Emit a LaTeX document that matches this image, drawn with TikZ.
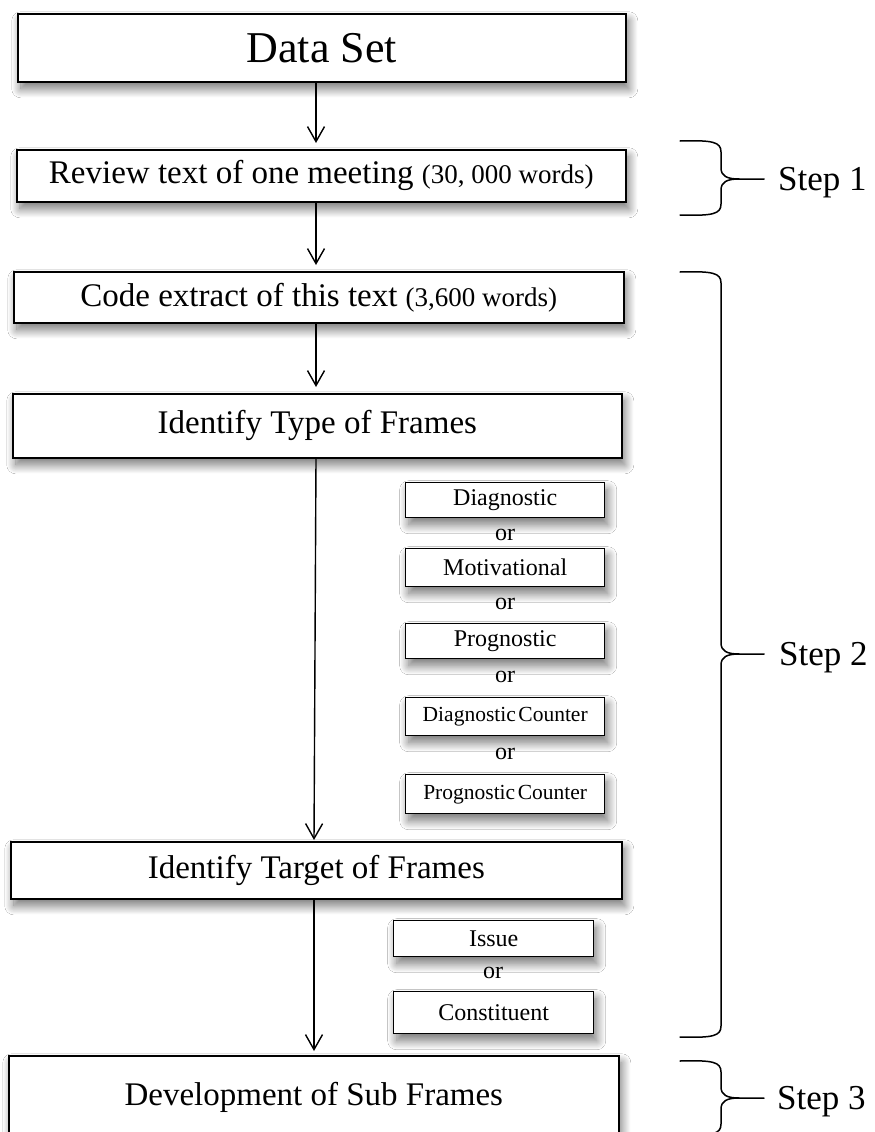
\documentclass[tikz,border=0pt]{standalone}
\usepackage{fontspec}
\setmainfont{Liberation Serif}
\usetikzlibrary{arrows.meta,shadows.blur}

% font size given in points (one point per pixel of the drawing)
\newcommand{\pxsize}[1]{\fontsize{#1pt}{#1pt}\selectfont}

% curly bracket on the right: top y, tip y, bottom y
\newcommand{\stepbrace}[3]{%
  \draw[brace] (680,#1) .. controls (713,{#1-1}) and (721,{#1+1}) .. (721,{#1+11})
    -- (721,{#2-11}) .. controls (721,{#2-3}) and (727,#2) .. (739,#2) -- (764,#2);
  \draw[brace] (739,#2) .. controls (727,#2) and (721,{#2+3}) .. (721,{#2+11})
    -- (721,{#3-11}) .. controls (721,{#3-1}) and (713,{#3+1}) .. (680,#3);
}

\begin{document}
\begin{tikzpicture}[x=1pt,y=-1pt,
  box/.style={draw=black, line width=1.6pt, fill=white, inner sep=0pt,
    anchor=north west,
    blur shadow={shadow xshift=3pt, shadow yshift=-7pt,
      shadow blur radius=9pt, shadow blur steps=24, shadow opacity=55}},
  choice/.style={box, line width=1.4pt, minimum width=199pt, font=\pxsize{24}},
  flow/.style={line width=1.4pt,
    -{Straight Barb[length=15pt,width=17pt,line width=1.4pt]}},
  brace/.style={line width=1.5pt, line cap=round, line join=round},
  steplabel/.style={anchor=base west, inner sep=0pt, font=\pxsize{35}},
  orlabel/.style={inner sep=0pt, font=\pxsize{24}}
]
\clip (0,0) rectangle (875,1132);
\fill[white] (0,0) rectangle (875,1132);

\coordinate (upperaxis) at (316,0);
\coordinate (loweraxis) at (314,0);

% main sequence
\node[box, minimum width=608pt, minimum height=68pt, font=\pxsize{44}]
  (dataset) at (17,13) {Data Set};
\node[box, minimum width=609pt, minimum height=52pt, font=\pxsize{33}]
  (review) at (16,149) {Review text of one meeting {\pxsize{27}(30, 000 words)}};
\node[box, minimum width=610pt, minimum height=51pt, font=\pxsize{33}]
  (code) at (13,271) {Code extract of this text {\pxsize{27}(3,600 words)}};
\node[box, minimum width=609pt, minimum height=64pt, font=\pxsize{33}]
  (type) at (12,393) {Identify Type of Frames};
\node[box, minimum width=611pt, minimum height=57pt, font=\pxsize{33}]
  (target) at (10,841) {Identify Target of Frames};
\node[box, minimum width=610pt, minimum height=84pt, font=\pxsize{33}]
  (dev) at (8,1055) {Development of Sub Frames};

% frame types
\node[choice, minimum height=35pt] (diag) at (405,482) {Diagnostic};
\node[orlabel] (or1) at (505,535) {or};
\node[choice, minimum height=38pt] (motiv) at (405,548) {Motivational};
\node[orlabel] (or2) at (505,604) {or};
\node[choice, minimum height=35pt] (prog) at (405,623) {Prognostic};
\node[orlabel] (or3) at (505,677) {or};
\node[choice, minimum height=38pt, font=\pxsize{21.5}] (diagc) at (405,697) {Diagnostic\hspace{0.12em}Counter};
\node[orlabel] (or4) at (505,754) {or};
\node[choice, minimum height=39pt, font=\pxsize{21.5}] (progc) at (405,774) {Prognostic\hspace{0.12em}Counter};

% frame targets
\node[choice, minimum width=200pt, minimum height=36pt] (issue) at (393,920) {Issue};
\node[orlabel] (or5) at (493,973) {or};
\node[choice, minimum width=200pt, minimum height=42pt] (constit) at (393,991) {Constituent};

% connectors
\draw[flow, shorten >=6pt] (dataset.south -| upperaxis) -- (review.north -| upperaxis);
\draw[flow, shorten >=6pt] (review.south -| upperaxis) -- (code.north -| upperaxis);
\draw[flow, shorten >=6pt] (code.south -| upperaxis) -- (type.north -| upperaxis);
\draw[flow, shorten >=1pt] (type.south -| upperaxis) -- (target.north -| loweraxis);
\draw[flow, shorten >=4pt] (target.south -| loweraxis) -- (dev.north -| loweraxis);

% steps
\stepbrace{141}{179}{215}
\node[steplabel] (step1) at (778,190) {Step 1};
\stepbrace{272}{654}{1037}
\node[steplabel] (step2) at (779,665) {Step 2};
\stepbrace{1061}{1098}{1135}
\node[steplabel] (step3) at (777,1109) {Step 3};
\end{tikzpicture}
\end{document}
